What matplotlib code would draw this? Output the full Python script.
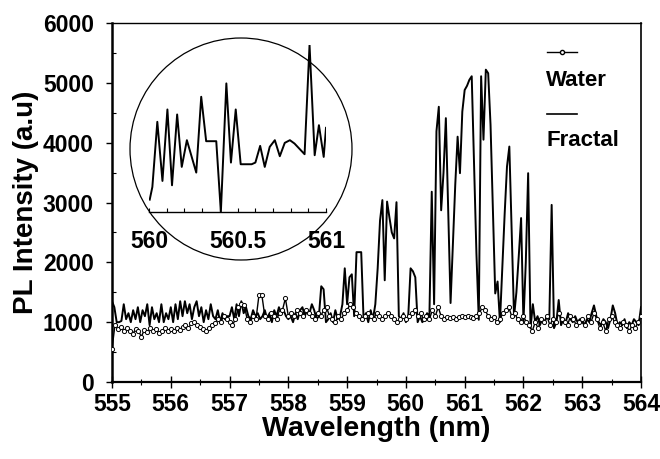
import numpy as np
import matplotlib
matplotlib.use('Agg')
import matplotlib.pyplot as plt
from matplotlib.patches import Ellipse
from matplotlib.lines import Line2D

plt.rcParams['font.family'] = ['Liberation Sans', 'DejaVu Sans']
plt.rcParams['font.weight'] = 'bold'

# fractal spectrum, one value every 0.04 nm from 555 to 564
fractal_wl = np.linspace(555, 564, 226)
fractal_pl = [
    1350, 1250, 1000, 1000, 1020, 1300, 1050, 1150, 1000, 1200, 1050, 1250, 1000,
    1200, 1100, 1300, 950, 1250, 1050, 1150, 1000, 1300, 1000, 1150, 1050,
    1250, 1000, 1300, 1050, 1350, 1100, 1350, 1150, 1300, 1050, 1250, 1350, 1100,
    1250, 1000, 1200, 1050, 1300, 1100, 1050, 1200, 1000, 1150, 1050, 1100,
    1100, 1250, 1050, 1300, 1100, 1350, 1150, 1250, 1100, 1050, 1200, 1100, 1150,
    1050, 1100, 1200, 1050, 1150, 1000, 1200, 1100, 1250, 1150, 1200, 1100,
    1050, 1100, 1000, 1150, 1050, 1200, 1250, 1100, 1200, 1150, 1300, 1200, 1050,
    1100, 1600, 1550, 1000, 1050, 1150, 1000, 1200, 1050, 1100, 1300, 1900,
    1300, 1750, 1800, 1100, 2170, 2170, 2170, 1050, 1150, 1000, 1200, 1050, 1300,
    1900, 2700, 3040, 1700, 3015, 2750, 2500, 2400, 3005, 1100, 1050, 1150,
    1000, 1100, 1900, 1850, 1750, 1000, 1100, 1000, 1050, 1150, 1100, 3180, 1300,
    4190, 4600, 2870, 3500, 4410, 2900, 1320, 2300, 3300, 4100, 3490, 4520,
    4880, 4950, 5050, 5110, 3600, 2150, 1040, 5110, 4050, 5220, 5160, 4300, 2900,
    1480, 1680, 1000, 1900, 2800, 3600, 3935, 2500, 1090, 1500, 2100, 2740,
    1000, 2000, 3490, 900, 1300, 1000, 1100, 950, 1050, 1000, 1100, 1050, 2960,
    900, 1000, 1370, 950, 1050, 1000, 1150, 1050, 1000, 1100, 1000, 1050,
    1000, 950, 1050, 1000, 1150, 1280, 1100, 1000, 950, 1050, 1000, 900, 1050,
    1280, 1150, 950, 1000, 950, 1050, 900, 1000, 950, 1050, 1000, 950,
    1250,
]

# water spectrum, one value every 0.05 nm
water_wl = np.linspace(555, 564, 181)
water_pl = [
    550, 950, 880, 920, 860, 900, 850, 800, 880, 850, 760, 870, 840, 900, 850, 880, 820, 850, 900, 850,
    880, 850, 900, 870, 920, 950, 900, 980, 1000, 950, 920, 880, 850, 900, 950, 980, 1050, 1000, 1100, 1050,
    1000, 950, 1050, 1250, 1300, 1280, 1050, 1000, 1100, 1050, 1450, 1450, 1100, 1050, 1150, 1100, 1050, 1150, 1200, 1400,
    1100, 1150, 1100, 1200, 1150, 1100, 1200, 1150, 1100, 1050, 1150, 1100, 1200, 1250, 1100, 1050, 1000, 1100, 1050, 1150,
    1200, 1300, 1250, 1150, 1100, 1050, 1100, 1150, 1100, 1050, 1150, 1100, 1050, 1100, 1150, 1100, 1050, 1000, 1050, 1100,
    1050, 1100, 1150, 1200, 1100, 1150, 1050, 1100, 1050, 1200, 1100, 1250, 1100, 1050, 1080, 1070, 1080, 1050, 1080, 1100,
    1080, 1100, 1080, 1070, 1100, 1150, 1250, 1200, 1100, 1050, 1080, 1000, 1050, 1150, 1200, 1250, 1100, 1150, 1050, 1000,
    1100, 1000, 950, 850, 1000, 900, 1050, 1000, 1100, 950, 1050, 1000, 1150, 1050, 1000, 950, 1100, 1050, 950, 1000,
    1050, 950, 1100, 1000, 1150, 1050, 900, 1000, 850, 1050, 1100, 1000, 950, 900, 1000, 950, 850, 950, 900, 1000,
    1100,
]

# zoomed fractal detail 560-561 nm (inset)
inset_wl = [560.004, 560.019, 560.047, 560.076, 560.104, 560.130, 560.159, 560.185, 560.214,
            560.267, 560.295, 560.323, 560.380, 560.406, 560.437, 560.463, 560.490, 560.518,
            560.580, 560.601, 560.628, 560.654, 560.682, 560.711, 560.739, 560.767, 560.796,
            560.822, 560.879, 560.907, 560.936, 560.960, 560.987, 561.0]
inset_pl = [1185, 1375, 2350, 1465, 2535, 1400, 2460, 1675, 2075,
            1590, 2725, 2060, 2060, 1000, 2925, 1740, 2535, 1715,
            1715, 1740, 1990, 1675, 1975, 2075, 1835, 2035, 2075,
            2025, 1865, 3500, 1850, 2300, 1825, 2260]

W, H = 660, 459
fig = plt.figure(figsize=(6.6, 4.59), dpi=100)
ax = fig.add_axes([112 / W, 1 - 382 / H, (641 - 112) / W, (382 - 23) / H])

ax.plot(fractal_wl, fractal_pl, color='black', lw=1.4, zorder=2)
ax.plot(water_wl, water_pl, color='black', lw=1.0, marker='o', ms=3,
        mfc='white', mec='black', mew=0.7, zorder=3)

ax.set_xlim(555, 564)
ax.set_ylim(0, 6000)
ax.set_xticks(np.arange(555, 565, 1))
ax.set_xticks(np.arange(555.5, 564, 1), minor=True)
ax.set_yticks(np.arange(0, 7000, 1000))
ax.set_yticks(np.arange(500, 6000, 1000), minor=True)
ax.tick_params(axis='x', which='major', direction='inout', length=8, width=1, labelsize=16.5, pad=4)
ax.tick_params(axis='x', which='minor', direction='inout', length=5, width=0.8)
ax.tick_params(axis='y', which='major', direction='out', length=4, width=1, labelsize=16.5, pad=9)
ax.tick_params(axis='y', which='minor', direction='in', length=3, width=0.8)
for lab in ax.get_xticklabels() + ax.get_yticklabels():
    lab.set_fontweight('bold')
ax.spines['left'].set_linewidth(1.8)
ax.spines['bottom'].set_linewidth(1.6)
ax.spines['top'].set_linewidth(1.0)
ax.spines['right'].set_linewidth(1.2)

ax.set_xlabel('Wavelength (nm)', fontsize=20.5, fontweight='bold', labelpad=0)
ax.set_ylabel('PL Intensity (a.u)', fontsize=20, fontweight='bold', labelpad=3)

# legend, handle drawn above each label
fig.add_artist(Line2D([547 / W, 577 / W], [1 - 52 / H, 1 - 52 / H], color='black', lw=1.0,
                      transform=fig.transFigure))
fig.add_artist(Line2D([562 / W], [1 - 52 / H], color='black', lw=0, marker='o', ms=3,
                      mfc='white', mec='black', transform=fig.transFigure))
fig.text(546 / W, 1 - 80 / H, 'Water', fontsize=16, fontweight='bold', va='center', ha='left')
fig.add_artist(Line2D([547 / W, 577 / W], [1 - 114 / H, 1 - 114 / H], color='black', lw=1.2,
                      transform=fig.transFigure))
fig.text(546 / W, 1 - 140 / H, 'Fractal', fontsize=16, fontweight='bold', va='center', ha='left')

# magnifier circle with inset
circ = Ellipse((241 / W, 1 - 149 / H), 222 / W, 222 / H, transform=fig.transFigure,
               fill=False, edgecolor='black', lw=0.9)
fig.add_artist(circ)

axin = fig.add_axes([149 / W, 1 - 212 / H, (326 - 149) / W, (212 - 45) / H])
axin.patch.set_alpha(0)
axin.plot(inset_wl, inset_pl, color='black', lw=1.4)
axin.set_xlim(560, 561)
axin.set_ylim(1000, 3500)
for s in ['top', 'right', 'left']:
    axin.spines[s].set_visible(False)
axin.spines['bottom'].set_linewidth(1.0)
axin.set_yticks([])
axin.set_xticks([560, 560.5, 561])
axin.set_xticklabels(['560', '560.5', '561'])
axin.set_xticks(np.arange(560.1, 561, 0.1), minor=True)
axin.tick_params(axis='x', which='both', direction='in', length=3, width=0.8, labelsize=16.5, pad=13)
for lab in axin.get_xticklabels():
    lab.set_fontweight('bold')

fig.savefig('out.png', dpi=100)
